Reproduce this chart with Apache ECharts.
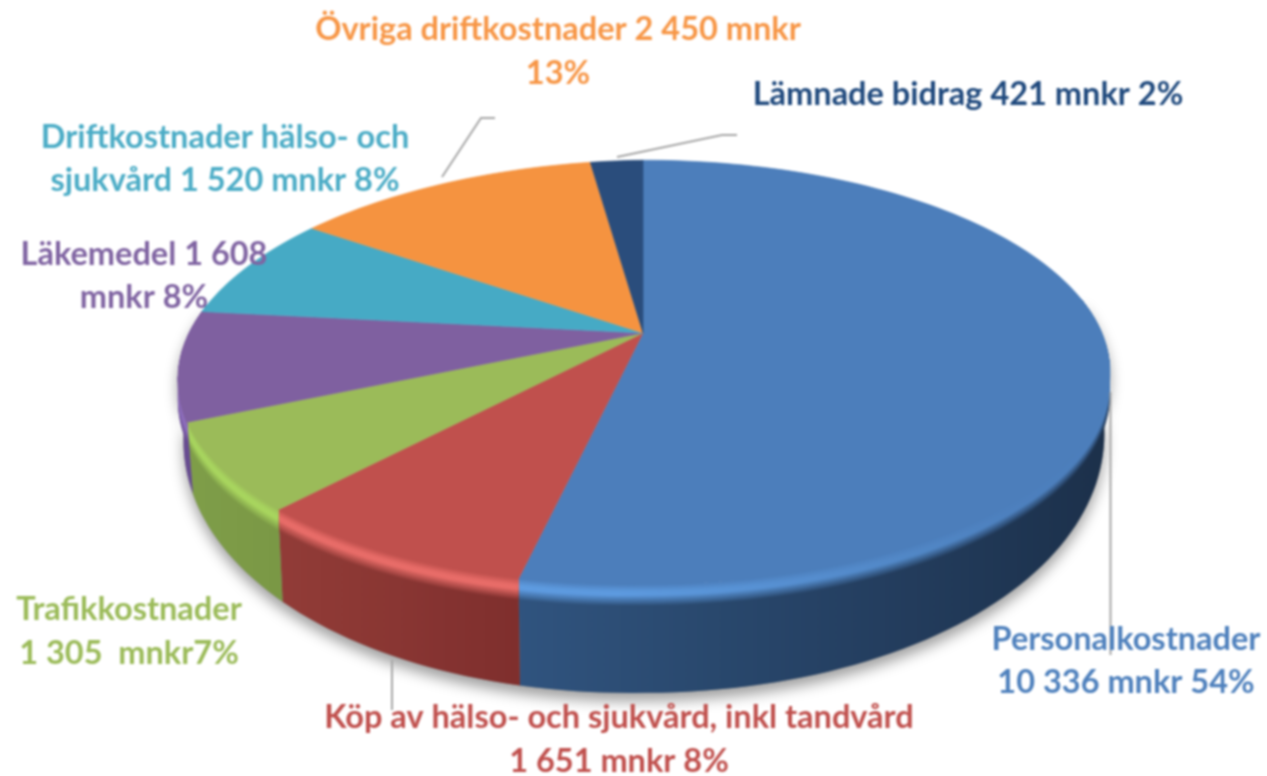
<!DOCTYPE html>
<html><head><meta charset="utf-8">
<style>html,body{margin:0;padding:0;background:#fff}#c{width:1267px;height:776px;filter:blur(0.8px)}</style>
<script src="https://cdn.jsdelivr.net/npm/echarts@6/dist/echarts.min.js"></script>
</head><body><div id="c"></div>
<script>
const categories = ['Personalkostnader','Köp av hälso- och sjukvård, inkl tandvård','Trafikkostnader','Läkemedel','Driftkostnader hälso- och sjukvård','Övriga driftkostnader','Lämnade bidrag'];
const values = [10336,1651,1305,1608,1520,2450,421];
const labelLines = [
 ['Personalkostnader','10 336 mnkr 54%'],
 ['Köp av hälso- och sjukvård, inkl tandvård','1 651 mnkr 8%'],
 ['Trafikkostnader','1 305  mnkr7%'],
 ['Läkemedel 1 608','mnkr 8%'],
 ['Driftkostnader hälso- och','sjukvård 1 520 mnkr 8%'],
 ['Övriga driftkostnader 2 450 mnkr','13%'],
 ['Lämnade bidrag 421 mnkr 2%']
];

// ---- styling / projection ----
const topColors  = ['#4c7ebb','#c0504d','#9bbb59','#7f60a0','#46aac5','#f59340','#2a4d7c'];
const hiColors   = ['#5e9be0','#e86c68','#a8d55e','#8e6ebd','#46aac5','#f59340','#2a4d7c'];
const sideLeft   = ['#30547f','#923c38','#7f9e49','#6a4e94','#3a8da3','#c9762f','#1f3a5e'];
const sideRight  = ['#1c304a','#7f2f2d','#7a9845','#64498c','#3a8da3','#c9762f','#1f3a5e'];
const textColors = ['#4f81bd','#c0504d','#9bbb59','#8064a2','#4bacc6','#f79646','#1f497d'];
const labelPos = [
 [[1126,640],[1126,683]],
 [[619,718],[619,762]],
 [[129,610],[129,654]],
 [[144,255],[144,298]],
 [[225,138],[225,181]],
 [[558,30],[558,74]],
 [[968,95]]
];
const leaderLines = [
 [[1110.5,392],[1110.5,655]],
 [[392,660],[392,710]],
 [],[],[],
 [[442,177],[481,118],[495,118]],
 [[617,157],[722,135],[737,135]]
];
const cx=643, cy=333, A=457, B=205, K=0.186, BEVEL=22, STRIPS=12, FONT='700 32.5px Lato, sans-serif';
const total = values.reduce((a,b)=>a+b,0);
function range(i){ let s=0; for(let j=0;j<i;j++) s+=values[j]; return [s/total*360,(s+values[i])/total*360]; }
function rim(d){
  const t=d*Math.PI/180,u=Math.sin(t),v=-Math.cos(t),w=1-K*v,x=cx+A*u/w;
  return [x+(x>cx?(x-cx)*0.004:0), cy+B*v/w+Math.max(cx-x,0)*0.015, v];
}
function down(d,off){ const p=rim(d); return [p[0],p[1]+off]; }
function depth(v){ return 50+58*Math.max(v,0); }
function bottom(d){ const p=rim(d); return [cx+(p[0]-cx)*0.988, p[1]+depth(p[2])]; }
function steps(a,b){ const n=Math.max(2,Math.ceil((b-a)/1.5)),o=[]; for(let i=0;i<=n;i++)o.push(a+(b-a)*i/n); return o; }
function hex(c){ return [1,3,5].map(i=>parseInt(c.substr(i,2),16)); }
function mix(a,b,t){ const x=hex(a),y=hex(b); return '#'+x.map((v,i)=>Math.round(v+(y[i]-v)*t).toString(16).padStart(2,'0')).join(''); }
function clamp(x){ return Math.max(0,Math.min(1,x)); }
function grad(x0,x1,fn){
  const stops=[]; for(let i=0;i<=6;i++){ stops.push({offset:i/6,color:fn(x0+(x1-x0)*i/6)}); }
  return {type:'linear',x:x0,y:0,x2:x1,y2:0,global:true,colorStops:stops};
}

function renderSide(params,api){
  const i=params.dataIndex; api.value(0);
  let [a,b]=range(i); a=Math.max(a,80); b=Math.min(b,280);
  if(b<=a) return {type:'group',children:[]};
  const ds=steps(a,b), rimPts=ds.map(rim), xs=rimPts.map(p=>p[0]);
  const x0=Math.min(...xs)-2, x1=Math.max(...xs)+2, kids=[];
  const sideAt=x=>mix(sideLeft[i],sideRight[i],clamp((x-x0)/(x1-x0)));
  const body=ds.map(d=>rim(d).slice(0,2)).concat(ds.slice().reverse().map(bottom));
  kids.push({type:'polygon',shape:{points:body},style:{fill:grad(x0,x1,sideAt),stroke:null}});
  for(let s=STRIPS;s>=1;s--){
    const f=s/STRIPS;
    const pts=ds.map(d=>rim(d).slice(0,2)).concat(ds.slice().reverse().map(d=>down(d,f*BEVEL)));
    const col=x=>{
      const h=mix(topColors[i],hiColors[i],clamp((1050-x)/450));
      return f<=0.35?mix(topColors[i],h,f/0.35):(f<=0.5?h:mix(h,sideAt(x),(f-0.5)/0.5));
    };
    kids.push({type:'polygon',shape:{points:pts},style:{fill:grad(x0,x1,col)}});
  }
  return {type:'group',children:kids};
}
function renderTop(params,api){
  const i=params.dataIndex; api.value(0);
  const [a,b]=range(i);
  const pts=[[cx,cy]].concat(steps(a,b).map(d=>rim(d).slice(0,2)));
  return {type:'polygon',shape:{points:pts},style:{fill:topColors[i],stroke:topColors[i],lineWidth:0.6}};
}
function renderShadow(){
  const ds=steps(80,280);
  return {type:'polygon',shape:{points:ds.map(bottom).concat(ds.slice().reverse().map(d=>rim(d).slice(0,2)))},
    style:{fill:'#808080',shadowColor:'rgba(0,0,0,0.38)',shadowBlur:14,shadowOffsetY:8}};
}
function renderLabel(params,api){
  const i=params.dataIndex, kids=[];
  if(leaderLines[i].length) kids.push({type:'polyline',shape:{points:leaderLines[i]},style:{fill:null,stroke:'#a6a6a6',lineWidth:2}});
  labelLines[i].forEach((t,j)=>kids.push({type:'text',style:{x:labelPos[i][j][0],y:labelPos[i][j][1],text:t,fill:textColors[i],font:FONT,textAlign:'center',textVerticalAlign:'middle'}}));
  return {type:'group',children:kids};
}
const data = values.map((v,i)=>({name:categories[i],value:[v]}));
const base = {type:'custom',coordinateSystem:'none',silent:true,animation:false,clip:false};
const chart = echarts.init(document.getElementById('c'),null,{renderer:'canvas'});
chart.setOption({
  backgroundColor:'#ffffff',animation:false,
  series:[
    Object.assign({},base,{name:'shadow',z:1,data:[{value:[0]}],renderItem:renderShadow}),
    Object.assign({},base,{name:'side',z:2,data:data,renderItem:renderSide}),
    Object.assign({},base,{name:'top',z:3,data:data,renderItem:renderTop}),
    Object.assign({},base,{name:'labels',z:4,data:data,renderItem:renderLabel})
  ]
});
</script></body></html>
